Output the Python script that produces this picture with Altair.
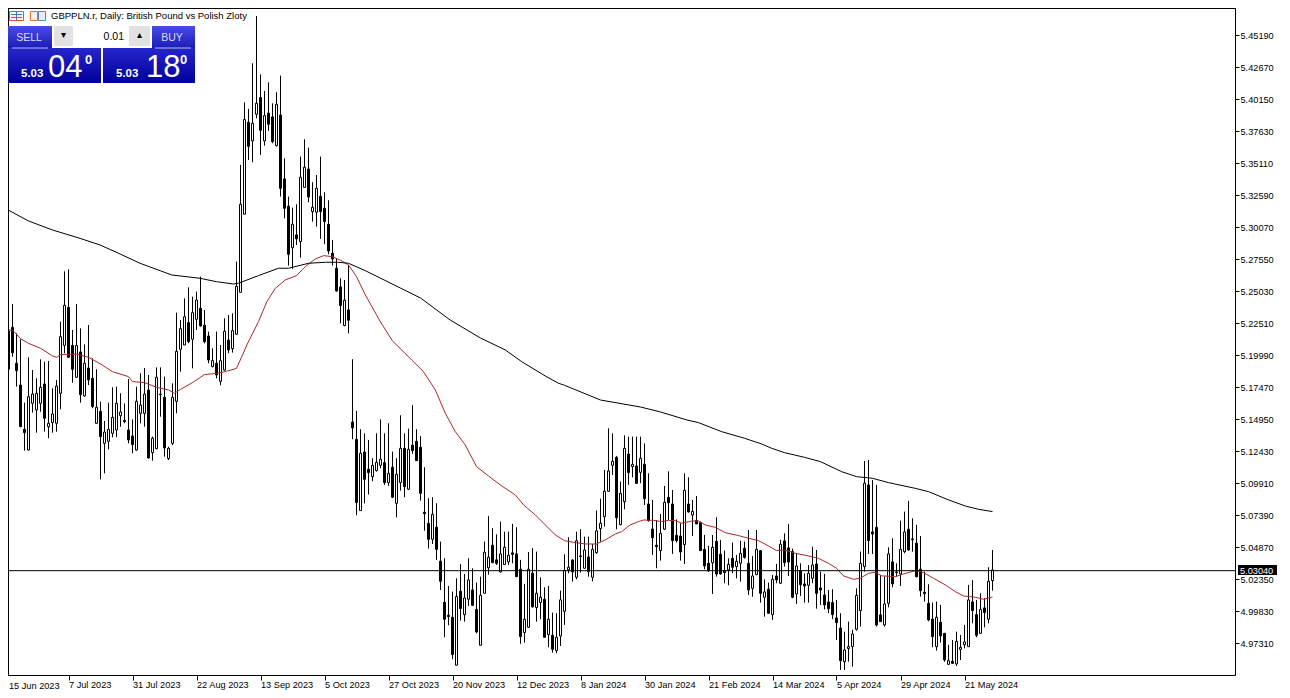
import altair as alt
import pandas as pd

# (open, high, low, close)
ohlc_jun_aug_2023 = [
(5.1857,5.1883,5.1778,5.1792),(5.1889,5.2434,5.1883,5.2190),(5.2219,5.2403,5.1988,5.2020),(5.1936,5.2172,5.1752,5.1878),
(5.1765,5.2125,5.1437,5.1437),(5.1416,5.1626,5.1249,5.1390),(5.1254,5.1983,5.1249,5.1673),(5.1621,5.1883,5.1548,5.1694),
(5.1569,5.1818,5.1390,5.1700),(5.1621,5.1967,5.1555,5.1747),(5.1773,5.1949,5.1398,5.1503),(5.1437,5.1954,5.1346,5.1464),
(5.1469,5.1739,5.1390,5.1537),(5.1464,5.1805,5.1398,5.1757),(5.1700,5.2264,5.1574,5.2146),(5.2077,5.2660,5.2015,5.2392),
(5.2376,5.2675,5.1983,5.1983),(5.2077,5.2198,5.1784,5.1889),(5.1826,5.2403,5.1820,5.2077),(5.2025,5.2211,5.1626,5.1689),
(5.1679,5.2085,5.1673,5.1936),(5.1899,5.2237,5.1765,5.1805),(5.1818,5.1975,5.1582,5.1595),(5.1464,5.1889,5.1458,5.1590),
(5.1558,5.1634,5.1023,5.1359),(5.1306,5.1482,5.1070,5.1395),(5.1322,5.1626,5.1259,5.1416),(5.1385,5.1747,5.1354,5.1511),
(5.1411,5.1752,5.1354,5.1621),(5.1524,5.1700,5.1437,5.1553),(5.1487,5.1621,5.1464,5.1477),(5.1411,5.1813,5.1306,5.1333),
(5.1364,5.1495,5.1228,5.1296),(5.1254,5.1752,5.1249,5.1637),(5.1542,5.1857,5.1464,5.1608),(5.1542,5.1899,5.1437,5.1694),
(5.1726,5.1844,5.1186,5.1191),(5.1233,5.1359,5.1170,5.1346),(5.1264,5.1904,5.1259,5.1826),(5.1694,5.1904,5.1516,5.1689),
(5.1668,5.1831,5.1201,5.1270),(5.1186,5.1280,5.1175,5.1267),(5.1306,5.1778,5.1293,5.1668),(5.1637,5.2335,5.1542,5.2030),
(5.2046,5.2277,5.1870,5.2209),(5.2080,5.2447,5.2080,5.2303),(5.2256,5.2534,5.2093,5.2106),(5.2125,5.2460,5.1896,5.2335),
(5.2282,5.2500,5.2198,5.2434),(5.2369,5.2618,5.2224,5.2230),(5.2235,5.2356,5.2093,5.2106),(5.2151,5.2185,5.1936,5.1962),
(5.1910,5.2054,5.1904,5.1957),(5.1936,5.2185,5.1818,5.1844),(5.1794,5.2080,5.1763,5.1957),(5.1883,5.2290,5.1878,5.2188),
(5.2119,5.2316,5.2015,5.2041),(5.2051,5.2329,5.2020,5.2193),
]
ohlc_aug_oct_2023 = [
(5.2165,5.2736,5.2159,5.2542),(5.2495,5.3497,5.2495,5.3187),(5.3109,5.3990,5.3109,5.3854),(5.3833,5.3938,5.3536,5.3644),
(5.3686,5.4297,5.3518,5.3825),(5.3896,5.4669,5.3864,5.3982),(5.4027,5.4210,5.3576,5.3770),(5.3686,5.4079,5.3649,5.3885),
(5.3904,5.4147,5.3765,5.3817),(5.3875,5.3982,5.3667,5.3681),(5.3649,5.4069,5.3641,5.3974),(5.3890,5.4200,5.3248,5.3313),
(5.3387,5.3549,5.3077,5.3156),(5.3172,5.3248,5.2705,5.2794),(5.2846,5.3161,5.2679,5.3030),(5.2946,5.3187,5.2867,5.2915),
(5.2894,5.3563,5.2768,5.3400),(5.3321,5.3699,5.3319,5.3479),(5.3465,5.3633,5.3203,5.3245),(5.3130,5.3361,5.3051,5.3164),
(5.3125,5.3418,5.3012,5.3313),(5.3250,5.3563,5.2915,5.3130),(5.3156,5.3282,5.2873,5.3051),(5.3030,5.3219,5.2794,5.2820),
(5.2802,5.2907,5.2705,5.2757),(5.2684,5.2763,5.2500,5.2505),(5.2537,5.2605,5.2251,5.2390),(5.2233,5.2592,5.2227,5.2432),
(5.2356,5.2710,5.2172,5.2275),
]
ohlc_oct_dec_2023 = [
(5.1474,5.1968,5.1338,5.1427),(5.1338,5.1561,5.0740,5.0840),(5.0777,5.1417,5.0777,5.1228),(5.1238,5.1385,5.0834,5.1023),
(5.1102,5.1333,5.0903,5.1076),(5.1044,5.1189,5.1008,5.1133),(5.1091,5.1385,5.1084,5.1157),(5.1133,5.1495,5.1110,5.1181),
(5.1154,5.1385,5.0979,5.0997),(5.0997,5.1464,5.0971,5.1070),(5.1118,5.1241,5.0876,5.0882),(5.0834,5.1189,5.0724,5.1063),
(5.0997,5.1527,5.0934,5.1267),(5.1267,5.1385,5.0882,5.0965),(5.0945,5.1422,5.0939,5.1259),(5.1291,5.1606,5.1223,5.1249),
(5.1322,5.1417,5.1170,5.1170),(5.1275,5.1364,5.0855,5.0913),(5.0764,5.1118,5.0619,5.0753),(5.0677,5.0874,5.0478,5.0551),
(5.0551,5.0882,5.0514,5.0748),(5.0646,5.0834,5.0389,5.0472),(5.0378,5.0533,5.0152,5.0221),(5.0055,5.0402,4.9780,4.9922),
(4.9953,5.0184,4.9874,4.9943),(4.9937,5.0139,4.9607,4.9644),(4.9560,5.0244,4.9560,5.0100),(5.0142,5.0357,4.9911,5.0006),
(4.9958,5.0278,4.9903,5.0089),(5.0079,5.0402,5.0026,5.0231),(5.0152,5.0323,5.0026,5.0032),(5.0000,5.0210,4.9811,4.9822),
(4.9717,5.0257,4.9717,5.0110),(5.0126,5.0533,5.0126,5.0449),(5.0326,5.0735,5.0273,5.0410),(5.0504,5.0638,5.0362,5.0368),
(5.0389,5.0590,5.0349,5.0362),(5.0294,5.0690,5.0289,5.0436),(5.0352,5.0611,5.0349,5.0488),(5.0373,5.0611,5.0349,5.0425),
(5.0444,5.0672,5.0362,5.0433),(5.0436,5.0646,5.0257,5.0257),(5.0315,5.0389,4.9728,4.9785),(4.9817,5.0200,4.9738,4.9922),
(4.9859,5.0451,4.9853,5.0315),(5.0284,5.0483,5.0014,5.0019),(5.0014,5.0454,4.9903,5.0126),(5.0053,5.0252,4.9922,5.0095),
(5.0079,5.0173,4.9780,4.9780),(4.9801,5.0184,4.9701,4.9922),(4.9796,4.9974,4.9659,4.9686),(4.9675,4.9969,4.9654,4.9780),
(4.9790,5.0147,4.9712,5.0074),
]
ohlc_dec_2023_mar_2024 = [
(4.9984,5.0433,4.9877,5.0304),(5.0310,5.0567,5.0283,5.0331),(5.0388,5.0394,5.0218,5.0294),(5.0252,5.0611,5.0236,5.0540),
(5.0420,5.0630,5.0289,5.0415),(5.0323,5.0572,5.0320,5.0467),(5.0412,5.0572,5.0257,5.0297),(5.0252,5.0514,5.0220,5.0472),
(5.0446,5.0777,5.0436,5.0617),(5.0635,5.0871,5.0533,5.0677),(5.0729,5.1097,5.0651,5.0929),(5.0929,5.1424,5.0926,5.1089),
(5.1133,5.1385,5.1057,5.1165),(5.1196,5.1207,5.0630,5.0721),(5.0666,5.1005,5.0661,5.0913),(5.0847,5.1369,5.0787,5.1267),
(5.1222,5.1359,5.0979,5.1076),(5.1123,5.1359,5.1039,5.1141),(5.1128,5.1359,5.0986,5.0992),(5.1078,5.1359,5.0992,5.1188),
(5.1141,5.1306,5.0821,5.0871),(5.0829,5.1070,5.0690,5.0698),(5.0632,5.0860,5.0428,5.0564),(5.0504,5.0703,5.0323,5.0493),
(5.0462,5.0750,5.0383,5.0598),(5.0630,5.0971,5.0624,5.0842),(5.0881,5.1086,5.0703,5.0839),(5.0829,5.0939,5.0436,5.0540),
(5.0582,5.0708,5.0525,5.0540),(5.0577,5.0677,5.0383,5.0451),(5.0509,5.1070,5.0357,5.0937),(5.0829,5.1039,5.0761,5.0766),
(5.0742,5.0860,5.0577,5.0771),(5.0698,5.0892,5.0672,5.0672),(5.0682,5.0690,5.0462,5.0462),(5.0472,5.0585,5.0315,5.0341),
(5.0362,5.0499,5.0294,5.0304),(5.0367,5.0585,5.0121,5.0488),(5.0535,5.0724,5.0257,5.0278),(5.0433,5.0546,5.0273,5.0278),
(5.0304,5.0462,5.0205,5.0289),(5.0310,5.0401,5.0189,5.0354),(5.0401,5.0525,5.0283,5.0331),(5.0336,5.0428,5.0244,5.0378),
(5.0362,5.0540,5.0218,5.0441),(5.0480,5.0533,5.0399,5.0409),(5.0362,5.0624,5.0113,5.0152),(5.0165,5.0420,5.0100,5.0262),
(5.0273,5.0624,5.0268,5.0472),(5.0462,5.0467,5.0053,5.0126),(5.0095,5.0236,4.9942,5.0137),(5.0158,5.0210,4.9963,4.9969),
(4.9958,5.0270,4.9916,5.0236),(5.0262,5.0357,5.0205,5.0231),(5.0205,5.0546,5.0200,5.0512),
]
ohlc_mar_may_2024 = [
(5.0538,5.0598,5.0336,5.0367),(5.0483,5.0672,5.0262,5.0373),(5.0454,5.0478,5.0087,5.0095),(5.0121,5.0441,5.0042,5.0341),
(5.0304,5.0362,5.0105,5.0194),(5.0200,5.0283,5.0053,5.0184),(5.0189,5.0349,5.0053,5.0283),(5.0244,5.0493,5.0205,5.0349),
(5.0357,5.0467,5.0005,5.0126),(5.0168,5.0297,5.0034,5.0152),(5.0113,5.0278,5.0000,5.0034),(5.0058,5.0152,4.9969,5.0005),
(5.0053,5.0158,4.9922,4.9958),(4.9932,5.0074,4.9759,4.9895),(4.9853,4.9969,4.9523,4.9596),(4.9588,4.9824,4.9523,4.9680),
(4.9691,4.9903,4.9588,4.9706),(4.9706,4.9838,4.9549,4.9806),(4.9843,5.0165,4.9832,5.0110),(4.9990,5.0454,4.9864,5.0362),
(5.0336,5.1167,5.0297,5.0992),(5.0979,5.1175,5.0436,5.0541),(5.0609,5.1018,5.0436,5.0593),(5.0645,5.0979,4.9864,4.9877),
(4.9956,5.0270,4.9901,4.9903),(4.9877,5.0257,4.9864,5.0042),(5.0047,5.0488,5.0016,5.0436),(5.0373,5.0559,5.0173,5.0200),
(5.0294,5.0362,5.0257,5.0289),(5.0278,5.0698,5.0184,5.0472),(5.0454,5.0769,5.0441,5.0609),(5.0630,5.0853,5.0462,5.0467),
(5.0554,5.0716,5.0454,5.0548),(5.0520,5.0664,5.0252,5.0257),(5.0315,5.0577,5.0100,5.0147),(5.0134,5.0297,5.0061,5.0124),
(5.0047,5.0197,4.9906,4.9916),(4.9922,5.0053,4.9701,4.9785),(4.9706,5.0061,4.9675,4.9937),(4.9898,5.0034,4.9738,4.9790),
(4.9811,4.9811,4.9588,4.9601),(4.9567,4.9720,4.9562,4.9596),(4.9591,4.9759,4.9570,4.9575),(4.9570,4.9824,4.9554,4.9748),
(4.9685,4.9798,4.9601,4.9701),(4.9722,4.9877,4.9693,4.9743),(4.9706,5.0192,4.9706,5.0074),(5.0058,5.0231,4.9890,4.9990),
(4.9958,5.0074,4.9780,4.9796),(4.9811,5.0126,4.9806,5.0000),(5.0011,5.0087,4.9858,4.9974),(4.9922,5.0331,4.9890,5.0221),
(5.0226,5.0467,5.0147,5.0310),
]

# moving averages: (bar number, value)
ma_fast = [
(0,5.2198),(2,5.2198),(4,5.2130),(6,5.2093),(9,5.2054),(12,5.1994),(13,5.1983),(14,5.2004),(18,5.2009),(21,5.1983),
(24,5.1931),(27,5.1870),(31,5.1831),(32,5.1792),(35,5.1784),(38,5.1747),(41,5.1726),(42.5,5.1700),(44,5.1731),(47,5.1784),
(50,5.1847),(53,5.1857),(55.5,5.1873),(58,5.1896),(59.5,5.2001),(60.6,5.2081),(63.5,5.2264),(65.6,5.2422),(67.7,5.2526),
(70.2,5.2592),(73,5.2626),(75.2,5.2697),(77.7,5.2757),(79.75,5.2783),(81.8,5.2776),(83.9,5.2749),(86,5.2710),(88,5.2618),
(90.2,5.2474),(94,5.2261),(97,5.2112),(99.3,5.2041),(101.8,5.1962),(104.75,5.1870),(107.7,5.1726),(110.2,5.1543),
(112.7,5.1398),(115.2,5.1293),(118,5.1123),(121,5.1049),(124.3,5.0971),(127.7,5.0900),(129.8,5.0821),(132.7,5.0743),
(135.2,5.0664),(137.7,5.0585),(140,5.0540),(142.7,5.0525),(145.2,5.0514),(148,5.0514),(150.2,5.0546),(152.7,5.0593),
(154.3,5.0611),(156.4,5.0664),(158.5,5.0690),(159.75,5.0703),(162.25,5.0700),(164.3,5.0690),(166,5.0700),(167.7,5.0698),
(169.3,5.0677),(171.8,5.0695),(173.5,5.0695),(175.2,5.0664),(177.7,5.0645),(180.2,5.0603),(183.5,5.0580),(186,5.0559),
(188.5,5.0540),(191,5.0499),(193,5.0462),(195,5.0467),(197.7,5.0441),(201,5.0420),(203.5,5.0401),(206,5.0362),(208,5.0323),
(209.75,5.0263),(212.25,5.0236),(213.9,5.0244),(216,5.0283),(217.7,5.0291),(219.3,5.0263),(222.7,5.0257),(224.75,5.0278),
(227.7,5.0304),(229.75,5.0289),(232.25,5.0244),(235.2,5.0192),(237.7,5.0139),(239.75,5.0105),(242.7,5.0095),(244.75,5.0079),
(247,5.0097),
]
ma_slow = [
(0,5.3158),(6,5.3056),(12,5.2985),(18.9,5.2919),(23.9,5.2867),(28.9,5.2796),(33.9,5.2723),(38.9,5.2665),(41.8,5.2631),
(48.9,5.2605),(53,5.2578),(57.25,5.2560),(58.5,5.2566),(63.5,5.2626),(68.5,5.2684),(71,5.2684),(76,5.2723),(80.2,5.2731),
(83.5,5.2731),(86,5.2723),(90.2,5.2665),(99,5.2528),(104,5.2450),(111.4,5.2277),(119,5.2135),(125.2,5.2041),(129.3,5.1949),
(135.2,5.1836),(138.5,5.1779),(140,5.1763),(149,5.1647),(159,5.1592),(164,5.1553),(170.6,5.1490),(173.5,5.1469),(179.3,5.1398),
(185,5.1346),(189.3,5.1301),(191.8,5.1267),(195,5.1233),(200,5.1196),(204,5.1162),(209.3,5.1083),(213,5.1044),(217,5.1031),
(221,5.0997),(227.7,5.0952),(231,5.0926),(236,5.0861),(240.2,5.0813),(243.5,5.0787),(247,5.0769),
]

price_ticks = [5.4519,5.4267,5.4015,5.3763,5.3511,5.3259,5.3007,5.2755,5.2503,5.2251,5.1999,5.1747,5.1495,
               5.1243,5.0991,5.0739,5.0487,5.0235,4.9983,4.9731]
date_labels = ["15 Jun 2023","7 Jul 2023","31 Jul 2023","22 Aug 2023","13 Sep 2023","5 Oct 2023","27 Oct 2023",
               "20 Nov 2023","12 Dec 2023","8 Jan 2024","30 Jan 2024","21 Feb 2024","14 Mar 2024","5 Apr 2024",
               "29 Apr 2024","21 May 2024"]
last_price = 5.0304
FONT = "Liberation Sans"

rows = ohlc_jun_aug_2023 + ohlc_aug_oct_2023 + ohlc_oct_dec_2023 + ohlc_dec_2023_mar_2024 + ohlc_mar_may_2024
bars = pd.DataFrame(rows, columns=["open", "high", "low", "close"])
bars["bar"] = range(len(bars))
bars["top"] = bars[["open", "close"]].max(axis=1)
bars["bottom"] = bars[["open", "close"]].min(axis=1)
bars["fill"] = ["white" if c >= o else "black" for o, c in zip(bars["open"], bars["close"])]

x_scale = alt.Scale(domain=[-0.125, 307.625], nice=False, zero=False, padding=0)
y_scale = alt.Scale(domain=[4.9483, 5.47635], nice=False, zero=False, padding=0)
label_array = "[" + ",".join(f"'{d}'" for d in date_labels) + "]"

x_axis = alt.Axis(
    values=[16 * i for i in range(1, len(date_labels))], labelExpr=f"{label_array}[datum.value/16]",
    grid=False, domain=False, ticks=True, tickSize=5, tickColor="black", labelAlign="left", labelPadding=0,
    labelFont=FONT, labelFontSize=9.2, labelColor="black", labelFlush=False, labelOverlap=False, labelBound=False)
y_axis = alt.Axis(values=price_ticks, format=".5f", orient="right", grid=False, domain=False, ticks=True, tickSize=4,
                  tickColor="black", labelPadding=1, labelFont=FONT, labelFontSize=9.2, labelColor="black",
                  labelOverlap=False, labelBound=False)


def X(field="bar:Q"):
    return alt.X(field, scale=x_scale, title=None, axis=x_axis)


def Y(field):
    return alt.Y(field, scale=y_scale, title=None, axis=y_axis)


wicks = alt.Chart(bars).mark_rule(color="black", strokeWidth=1).encode(x=X(), y=Y("low:Q"), y2="high:Q")
bodies = alt.Chart(bars).mark_bar(size=2, stroke="black", strokeWidth=1).encode(
    x=X(), y=Y("bottom:Q"), y2="top:Q", fill=alt.Fill("fill:N", scale=None))


def ma_line(points, color):
    df = pd.DataFrame(points, columns=["bar", "value"])
    return alt.Chart(df).mark_line(color=color, strokeWidth=1).encode(x=X(), y=Y("value:Q"))


one = pd.DataFrame({"a": [0]})
last_line = alt.Chart(pd.DataFrame({"p": [last_price]})).mark_rule(color="black", strokeWidth=1).encode(y=Y("p:Q"))


def box(x0, y0, x1, y1, fill="white", stroke=None, sw=1):
    kw = {"fill": fill}
    if stroke:
        kw.update(stroke=stroke, strokeWidth=sw)
    return alt.Chart(one).mark_rect(**kw).encode(
        x=alt.value(x0 - 4), x2=alt.value(x1 - 4), y=alt.value(y0 - 4), y2=alt.value(y1 - 4))


def label(x, y, text, size=9, color="black", align="left", weight="normal", font=FONT):
    return alt.Chart(one).mark_text(text=text, fontSize=size, color=color, align=align, baseline="alphabetic",
                                    fontWeight=weight, font=font).encode(x=alt.value(x - 4), y=alt.value(y - 4))


def grad(a, b):
    return {"gradient": "linear", "x1": 0, "x2": 0, "y1": 0, "y2": 1,
            "stops": [{"offset": 0, "color": a}, {"offset": 1, "color": b}]}


BTN = grad("#4a4ae6", "#1c1cb8")
PANEL = grad("#2525cc", "#00009a")
overlay = [
    # frame lines at the visible edge
    box(8, 8, 9, 675, fill="black"), box(8, 8, 1235, 9, fill="black"),
    # first date label, moved just inside the visible edge
    label(9, 689, date_labels[0], size=9.2),
    # title icons
    box(9.5, 11.5, 23.5, 20.5, fill="#fff4f0", stroke="#d9553f"), box(16, 12, 17, 20, fill="#4f6fbf"),
    box(11, 14, 22, 15, fill="#4f6fbf"), box(11, 17, 22, 18, fill="#4f6fbf"),
    box(30.5, 11.5, 37.5, 20.5, fill="#fff0e6", stroke="#d9703f"), box(38.5, 11.5, 45.5, 20.5, fill="#e8f0ff", stroke="#5b84c4"),
    label(51, 19, "GBPPLN.r, Daily:  British Pound vs Polish Zloty", size=9.5),
    # one-click trading panel
    box(8, 26, 52, 48, fill=BTN), box(152, 26, 195, 48, fill=BTN),
    box(8, 48, 101, 83, fill=PANEL), box(103, 48, 195, 83, fill=PANEL),
    box(12, 47.5, 48, 48.5, fill="#b8b8f0"), box(155, 47.5, 191, 48.5, fill="#b8b8f0"),
    box(54, 26, 73, 46, fill="#e2e2e2"), box(73, 26, 129, 46, fill="white"), box(129, 26, 150, 46, fill="#e2e2e2"),
    label(29, 41, "SELL", size=10.5, color="#dcdcff", align="center"),
    label(172, 41, "BUY", size=10.5, color="#dcdcff", align="center"),
    label(63.5, 38, "▾", size=10, align="center", font="DejaVu Sans"),
    label(139.5, 38, "▴", size=10, align="center", font="DejaVu Sans"),
    label(124, 40, "0.01", size=10.5, align="right"),
    label(21, 77, "5.03", size=11.5, color="white", weight="bold"),
    label(48, 77, "04", size=31, color="white"),
    label(85, 64, "0", size=13, color="white", weight="bold"),
    label(116, 77, "5.03", size=11.5, color="white", weight="bold"),
    label(146, 77, "18", size=31, color="white"),
    label(180, 64, "0", size=13, color="white", weight="bold"),
    # last price tag
    box(1238, 565, 1277, 575, fill="black"),
    label(1240, 574, "5.03040", size=9.2, color="white"),
]

chart = alt.layer(wicks, bodies, ma_line(ma_fast, "#a52a2a"), ma_line(ma_slow, "black"), last_line, *overlay).properties(
    width=1231, height=671,
    padding={"left": -4, "top": -4, "right": 47, "bottom": 15},
    autosize=alt.AutoSizeParams(type="none"), background="white",
).configure_view(stroke="black", strokeWidth=1)

chart.save("out.html", embed_options={"renderer": "svg", "actions": False})
